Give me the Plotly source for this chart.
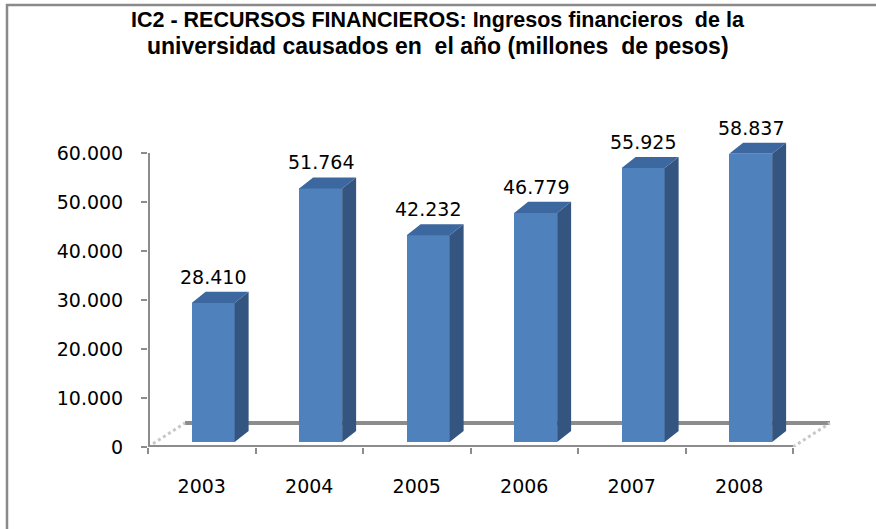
import plotly.graph_objects as go

# ---- data ----
years = ["2003", "2004", "2005", "2006", "2007", "2008"]
values = [28410, 51764, 42232, 46779, 55925, 58837]
value_labels = ["28.410", "51.764", "42.232", "46.779", "55.925", "58.837"]
y_tick_vals = [0, 10000, 20000, 30000, 40000, 50000, 60000]
y_tick_text = ["0", "10.000", "20.000", "30.000", "40.000", "50.000", "60.000"]
title_lines = ["IC2 - RECURSOS FINANCIEROS: Ingresos financieros  de la",
               "universidad causados en  el año (millones  de pesos)"]

# ---- styling / pseudo-3D parameters (in axis units) ----
FRONT = "#4F81BD"
SIDE = "#33557F"
TOP = "#3D679F"
AXIS = "#8C8C8C"
FONT = "DejaVu Sans"
bar_w = 0.40
bar_shift = 0.106      # front face shifted right from category centre
base = 1000            # front face sits slightly above front floor edge
ddx = 0.13             # bar depth, x
ddy = 2250             # bar depth, y
floor_dx = 0.344       # floor depth, x
floor_dy = 4900        # floor depth, y

# plot-area geometry in pixels
L, T, PW, PH = 148, 120, 684, 327
W, H = 876, 529


def px_x(p):
    return (p - L) / PW


def px_y(p):
    return (T + PH - p) / PH


n = len(years)
xs = list(range(n))
xc = [i + bar_shift for i in xs]

fig = go.Figure()

# front faces
fig.add_trace(go.Bar(
    x=xc, y=values, base=[base] * n, width=bar_w,
    marker=dict(color=FRONT, line=dict(width=0)),
    hoverinfo="skip", showlegend=False,
))

# side and top faces
sx, sy = [], []
tx, ty = [], []
for c, v in zip(xc, values):
    xl, xr = c - bar_w / 2, c + bar_w / 2
    b, t = base, base + v
    sx += [xr, xr + ddx, xr + ddx, xr, xr, None]
    sy += [b, b + ddy, t + ddy, t, b, None]
    tx += [xl, xl + ddx, xr + ddx, xr, xl, None]
    ty += [t, t + ddy, t + ddy, t, t, None]

fig.add_trace(go.Scatter(x=sx, y=sy, mode="lines", fill="toself",
                         fillcolor=SIDE, line=dict(width=0),
                         hoverinfo="skip", showlegend=False))
fig.add_trace(go.Scatter(x=tx, y=ty, mode="lines", fill="toself",
                         fillcolor=TOP, line=dict(width=0),
                         hoverinfo="skip", showlegend=False))

# data labels
for c, v, lab in zip(xc, values, value_labels):
    fig.add_annotation(x=c, y=base + v, text=lab, showarrow=False,
                       xanchor="center", yanchor="bottom", yshift=13,
                       font=dict(family=FONT, size=19, color="#000000"))

# title (two lines)
for line, py, fs in zip(title_lines, (20, 46), (21.5, 23)):
    fig.add_annotation(xref="paper", yref="paper", x=px_x(W / 2), y=px_y(py),
                       text=line, showarrow=False, xanchor="center", yanchor="middle",
                       font=dict(family="Liberation Sans", size=fs, color="#000000",
                                 weight="bold"))

x0, x1 = -0.5, n - 0.5
shapes = []
# floor back edge
shapes.append(dict(type="line", xref="x", yref="y",
                   x0=x0 + floor_dx, x1=x1 + floor_dx, y0=floor_dy, y1=floor_dy,
                   line=dict(color=AXIS, width=4), layer="below"))
# floor side edges (light)
for xe in (x0, x1):
    shapes.append(dict(type="line", xref="x", yref="y",
                       x0=xe, x1=xe + floor_dx, y0=0, y1=floor_dy,
                       line=dict(color="#C8C8C8", width=3, dash="dot"), layer="below"))
# front floor edge / x axis
shapes.append(dict(type="line", xref="x", yref="y",
                   x0=x0, x1=x1, y0=0, y1=0,
                   line=dict(color=AXIS, width=4), layer="below"))
# y axis
shapes.append(dict(type="line", xref="x", yref="y",
                   x0=x0, x1=x0, y0=0, y1=y_tick_vals[-1],
                   line=dict(color=AXIS, width=4), layer="below"))
# outer chart frame (extends beyond the right/bottom edges)
shapes.append(dict(type="rect", xref="paper", yref="paper",
                   x0=px_x(7), x1=px_x(W + 20),
                   y0=px_y(H + 20), y1=px_y(5),
                   line=dict(color="#8A8A8A", width=2.5), fillcolor="rgba(0,0,0,0)",
                   layer="below"))

fig.update_layout(
    width=W, height=H, autosize=False,
    margin=dict(l=L, r=W - L - PW, t=T, b=H - T - PH, pad=0),
    paper_bgcolor="white", plot_bgcolor="white",
    xaxis=dict(range=[x0, x0 + PW / 107.5], tickmode="array",
               tickvals=xs, ticktext=years, ticks="", showgrid=False,
               zeroline=False, showline=False, ticklabelstandoff=26,
               tickfont=dict(family=FONT, size=19, color="#000000"),
               minor=dict(tickmode="array", tickvals=[x0 + k for k in range(n + 1)],
                          ticks="outside", ticklen=6, tickwidth=2,
                          tickcolor=AXIS, showgrid=False)),
    yaxis=dict(range=[0, PH / 0.0049], tickmode="array",
               tickvals=y_tick_vals, ticktext=y_tick_text,
               ticks="outside", ticklen=6, tickwidth=2, tickcolor=AXIS,
               ticklabelstandoff=14,
               showgrid=False, zeroline=False, showline=False,
               tickfont=dict(family=FONT, size=19, color="#000000")),
    shapes=shapes,
    bargap=0,
)

fig.write_html("out.html", config={"displayModeBar": False},
               post_script="document.body.style.margin='0';document.body.style.overflow='hidden';")
